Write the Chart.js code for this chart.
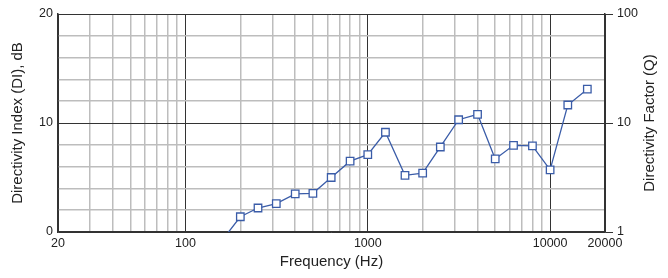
<!DOCTYPE html>
<html>
<head>
<meta charset="utf-8">
<script src="https://cdn.jsdelivr.net/npm/chart.js@4/dist/chart.umd.min.js"></script>
<style>
    html, body { margin: 0; padding: 0; background: #fff; }
    #wrap { width: 668px; height: 278px; }
</style>
</head>
<body>
<div id="wrap"><canvas id="diChart" width="668" height="278"></canvas></div>
<script>
// 1/3-octave band centres (Hz) and directivity index (dB)
const freqs = [160, 200, 250, 315, 400, 500, 630, 800, 1000, 1250, 1600, 2000,
               2500, 3150, 4000, 5000, 6300, 8000, 10000, 12500, 16000];
const diValues = [-0.7, 1.4, 2.2, 2.6, 3.5, 3.55, 5.0, 6.5, 7.1, 9.15, 5.2, 5.4,
                  7.8, 10.3, 10.8, 6.7, 7.95, 7.9, 5.7, 11.65, 13.1];

// tick labels
const xTickLabels = [20, 100, 1000, 10000, 20000];
const xGridValues = [20, 30, 40, 50, 60, 70, 80, 90, 100, 200, 300, 400, 500, 600, 700, 800, 900,
                     1000, 2000, 3000, 4000, 5000, 6000, 7000, 8000, 9000, 10000, 20000];
const xMajor = [20, 100, 1000, 10000, 20000];
const yTickLabels = [0, 10, 20];
const qTicks = [1, 10, 100];

const dark = '#333333';
const light = '#bdbdbd';
const textCol = '#222222';
const blue = '#3a5ca8';

// right axis title reads bottom-to-top, draw it ourselves
const rightTitle = {
    id: 'rightTitle',
    afterDraw(chart) {
        const ctx = chart.ctx;
        const area = chart.chartArea;
        ctx.save();
        ctx.translate(650, (area.top + area.bottom) / 2);
        ctx.rotate(-Math.PI / 2);
        ctx.font = '15px "Liberation Sans", Arial, sans-serif';
        ctx.fillStyle = textCol;
        ctx.textAlign = 'center';
        ctx.textBaseline = 'middle';
        ctx.fillText('Directivity Factor (Q)', 0, 0);
        ctx.restore();
    }
};

const points = freqs.map((f, i) => ({ x: f, y: diValues[i] }));

new Chart(document.getElementById('diChart'), {
    type: 'line',
    data: {
        datasets: [{
            label: 'DI',
            data: points,
            borderColor: blue,
            borderWidth: 1.3,
            backgroundColor: '#ffffff',
            pointStyle: 'rect',
            pointRadius: freqs.map(f => (f < 200 ? 0 : 5.3)),
            pointBorderWidth: 1.3,
            pointBorderColor: blue,
            pointBackgroundColor: '#ffffff',
            tension: 0,
            clip: 0,
        }],
    },
    options: {
        responsive: false,
        animation: false,
        layout: { padding: { top: 14, left: 0, right: 0, bottom: 0 } },
        plugins: {
            legend: { display: false },
            tooltip: { enabled: false },
        },
        font: { family: '"Liberation Sans", Arial, sans-serif' },
        scales: {
            x: {
                type: 'logarithmic',
                position: 'bottom',
                min: 20,
                max: 20000,
                afterBuildTicks: (scale) => {
                    scale.ticks = xGridValues.map(v => ({ value: v }));
                },
                afterFit: (scale) => { scale.height = 46; },
                ticks: {
                    autoSkip: false,
                    maxRotation: 0,
                    padding: 4,
                    color: textCol,
                    font: { size: 12.5 },
                    callback: (v) => (xTickLabels.includes(v) ? String(v) : ''),
                },
                grid: {
                    drawTicks: false,
                    color: (c) => (xMajor.includes(c.tick.value) ? dark : light),
                    lineWidth: (c) => (xMajor.includes(c.tick.value) ? 1 : 1.5),
                },
                border: { color: dark, width: 1.5 },
                title: {
                    display: true,
                    text: 'Frequency (Hz)',
                    color: textCol,
                    font: { size: 15 },
                    padding: { top: 0, bottom: 7 },
                },
            },
            y: {
                type: 'linear',
                position: 'left',
                min: 0,
                max: 20,
                afterFit: (scale) => { scale.width = 58; },
                ticks: {
                    stepSize: 2,
                    padding: 5,
                    color: textCol,
                    font: { size: 12.5 },
                    callback: (v) => (yTickLabels.includes(v) ? String(v) : ''),
                },
                grid: {
                    drawTicks: false,
                    color: (c) => (yTickLabels.includes(c.tick.value) ? dark : light),
                    lineWidth: (c) => (yTickLabels.includes(c.tick.value) ? 1 : 1.5),
                },
                border: { color: dark, width: 1.5 },
                title: {
                    display: true,
                    text: 'Directivity Index (DI), dB',
                    color: textCol,
                    font: { size: 15 },
                    padding: { top: 9, bottom: 0 },
                },
            },
            q: {
                type: 'logarithmic',
                position: 'right',
                min: 1,
                max: 100,
                afterBuildTicks: (scale) => {
                    scale.ticks = qTicks.map(v => ({ value: v }));
                },
                afterFit: (scale) => { scale.width = 63; },
                ticks: {
                    padding: 4,
                    color: textCol,
                    font: { size: 12.5 },
                    callback: (v) => String(v),
                },
                grid: {
                    drawOnChartArea: false,
                    drawTicks: true,
                    tickLength: 8,
                    tickColor: dark,
                    tickWidth: 1,
                },
                border: { color: dark, width: 1.5 },
            },
        },
    },
    plugins: [rightTitle],
});
</script>
</body>
</html>
